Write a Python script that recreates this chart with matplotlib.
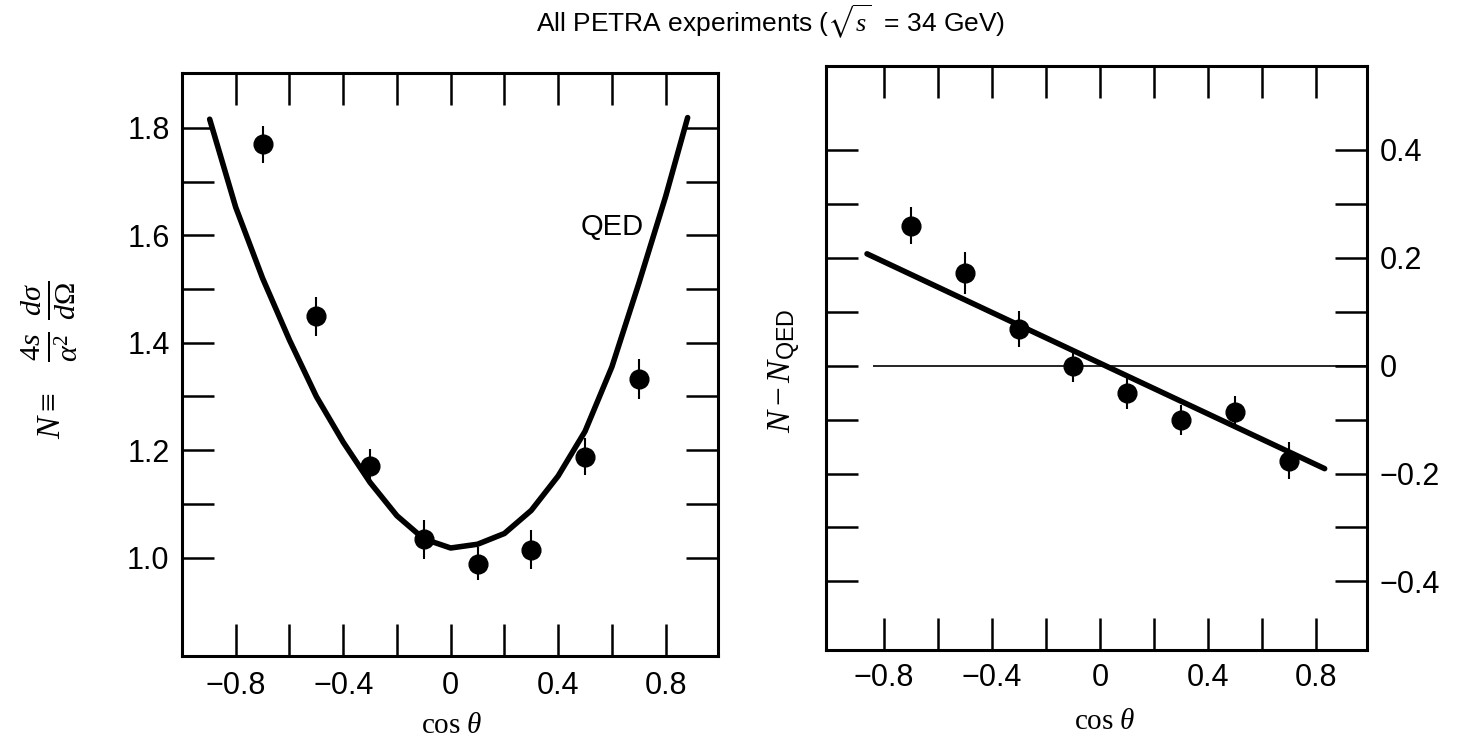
import numpy as np
import matplotlib
matplotlib.use("Agg")
import matplotlib.pyplot as plt

plt.rcParams['font.family'] = ['Liberation Sans', 'DejaVu Sans']
plt.rcParams['mathtext.fontset'] = 'custom'
plt.rcParams['mathtext.rm'] = 'Liberation Serif'
plt.rcParams['mathtext.it'] = 'Liberation Serif:italic'
plt.rcParams['mathtext.sf'] = 'Liberation Sans'
plt.rcParams['mathtext.fallback'] = 'stix'

# left panel: N vs cos theta, with QED curve
cos_pts = [-0.7, -0.5, -0.3, -0.1, 0.1, 0.3, 0.5, 0.7]
n_vals = [1.769, 1.449, 1.171, 1.034, 0.989, 1.015, 1.188, 1.333]
n_errs = [0.035, 0.037, 0.032, 0.037, 0.030, 0.037, 0.035, 0.037]

qed_x = [-0.897, -0.8, -0.7, -0.6, -0.5, -0.4, -0.3, -0.2, -0.1, 0.0,
         0.1, 0.2, 0.3, 0.4, 0.5, 0.6, 0.7, 0.8, 0.882]
qed_y = [1.816, 1.652, 1.52, 1.405, 1.30, 1.215, 1.14, 1.078, 1.035, 1.018,
         1.025, 1.045, 1.088, 1.152, 1.235, 1.355, 1.51, 1.672, 1.819]

# right panel: N - N_QED with straight-line fit
diff_vals = [0.259, 0.171, 0.068, 0.0, -0.050, -0.101, -0.086, -0.176]
diff_errs = [0.034, 0.039, 0.034, 0.030, 0.030, 0.028, 0.030, 0.034]
fit_x = [-0.863, 0.833]
fit_y = [0.207, -0.191]

W, H = 1457, 742
fig = plt.figure(figsize=(W / 100, H / 100), dpi=100)

ax1 = fig.add_axes([182 / W, 1 - 656 / H, 536 / W, 583 / H])
ax2 = fig.add_axes([826 / W, 1 - 650 / H, 541 / W, 584 / H])

for ax in (ax1, ax2):
    for s in ax.spines.values():
        s.set_linewidth(2.2)
    ax.tick_params(direction='in', length=23, width=1.8, labelsize=22,
                   top=True, bottom=True, left=True, right=True)

# ---- left panel
ax1.plot(qed_x, qed_y, color='black', lw=4, solid_capstyle='round',
         solid_joinstyle='round')
ax1.errorbar(cos_pts, n_vals, yerr=n_errs, fmt='o', color='black', ms=13.5,
             elinewidth=1.5, capsize=0)
ax1.text(0.60, 1.616, 'QED', fontsize=21, ha='center', va='center')
ax1.set_xlim(-1.0, 0.995)
ax1.set_ylim(0.817, 1.902)

xt = np.round(np.arange(-0.8, 0.81, 0.2), 1)
xlab = ['\u22120.8', '', '\u22120.4', '', '0', '', '0.4', '', '0.8']
ax1.set_xticks(xt)
ax1.set_xticklabels(xlab)
yt1 = np.round(np.arange(1.0, 1.81, 0.1), 1)
ax1.set_yticks(yt1)
ax1.set_yticklabels([f'{v:.1f}' if round(v * 10) % 2 == 0 else '' for v in yt1])
ax1.tick_params(axis='x', pad=11)
ax1.tick_params(axis='y', pad=9)

# y label drawn in two pieces so the fractions come out full size
fig.text(52 / W, 1 - 416 / H, r'$N \equiv$', fontsize=24, rotation=90,
         ha='center', va='center')
fig.text(49 / W, 1 - 321 / H, r'$\frac{4s}{\alpha^2}\;\frac{d\sigma}{d\Omega}$',
         fontsize=31, rotation=90, ha='center', va='center')

ax1.set_xlabel(r'$\mathrm{cos}\ \theta$', fontsize=21)
ax1.xaxis.set_label_coords(0.504, -0.094)

# ---- right panel
ax2.set_xlim(-1.015, 0.99)
ax2.set_ylim(-0.527, 0.555)
ax2.hlines(0, -0.84, 0.99, color='black', lw=1.2)
ax2.plot(fit_x, fit_y, color='black', lw=4, solid_capstyle='round')
ax2.errorbar(cos_pts, diff_vals, yerr=diff_errs, fmt='o', color='black', ms=13.5,
             elinewidth=1.5, capsize=0)

ax2.set_xticks(xt)
ax2.set_xticklabels(xlab)
yt2 = np.round(np.arange(-0.4, 0.41, 0.1), 1)
ax2.set_yticks(yt2)
ylab2 = []
for v in yt2:
    k = int(round(v * 10))
    if k % 2:
        ylab2.append('')
    elif k == 0:
        ylab2.append('0')
    else:
        ylab2.append(f'{v:.1f}'.replace('-', '\u2212'))
ax2.set_yticklabels(ylab2)
ax2.tick_params(axis='y', labelleft=False, labelright=True, pad=9)
ax2.tick_params(axis='x', pad=9)

ax2.set_ylabel(r'$N - N_{\mathsf{QED}}$', fontsize=24)
ax2.yaxis.set_label_coords(-0.043, 0.479)
ax2.set_xlabel(r'$\mathrm{cos}\ \theta$', fontsize=21)
ax2.xaxis.set_label_coords(0.516, -0.098)

fig.text(771 / W, 1 - 22 / H, r'All PETRA experiments ($\sqrt{s}$  = 34 GeV)',
         fontsize=19, ha='center', va='center')

fig.savefig('out.png', dpi=100)
